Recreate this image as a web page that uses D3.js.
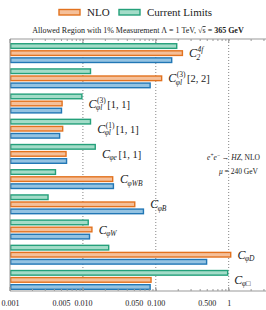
<!DOCTYPE html>
<html><head><meta charset="utf-8">
<script src="https://cdn.jsdelivr.net/npm/d3@7"></script>
<style>
body{margin:0;background:#fff;}
svg{display:block;}
text{font-family:"Liberation Serif","DejaVu Serif",serif;fill:#222;}
</style></head>
<body>
<svg id="c" width="266" height="310"></svg>
<script>
const categories = ["C2_4f","Cphil3_22","Cphil3_11","Cphil1_11","Cphie_11","CphiWB","CphiB","CphiW","CphiD","CphiBox"];
const currentLimits = [0.198, 0.013, 0.0099, 0.013, 0.0151, 0.0043, 0.0034, 0.0121, 0.0231, 0.99];
const nlo = [0.237, 0.123, 0.0053, 0.0054, 0.0060, 0.0262, 0.0526, 0.0136, 1.09, 0.088];
const thirdSeries = [0.169, 0.0855, 0.0052, 0.0049, 0.0061, 0.0268, 0.0692, 0.0126, 0.509, 0.0855];
const labels = [
  {sub:"2", sup:"4f", tail:""},
  {sub:"φl", sup:"(3)", tail:"[2, 2]"},
  {sub:"φl", sup:"(3)", tail:"[1, 1]"},
  {sub:"φl", sup:"(1)", tail:"[1, 1]"},
  {sub:"φe", sup:"", tail:"[1, 1]"},
  {sub:"φWB", sup:"", tail:""},
  {sub:"φB", sup:"", tail:""},
  {sub:"φW", sup:"", tail:""},
  {sub:"φD", sup:"", tail:""},
  {sub:"φ□", sup:"", tail:""}
];
const tickValues = [0.001, 0.005, 0.01, 0.05, 0.1, 0.5, 1];
const tickLabels = ["0.001","0.005","0.010","0.050","0.100","0.500","1"];
const gridValues = [0.01, 0.1, 1];
const seriesKeys = ["limits","nlo","third"];
const seriesData = {limits: currentLimits, nlo: nlo, third: thirdSeries};
const fills = {limits:"#a3dcc8", nlo:"#f5c09a", third:"#94c3e2"};
const strokes = {limits:"#24a07a", nlo:"#e2721f", third:"#2277b5"};

const svg = d3.select("#c");
const pTop = 39, pBottom = 291, pLeft = 10, pRight = 266;
const x = d3.scaleLog().domain([0.001, 3.25]).range([pLeft, pRight]);
const y = d3.scaleBand().domain(categories).range([pTop, pBottom]).paddingInner(0.2).paddingOuter(0.1).align(0.8);
const ys = d3.scaleBand().domain(seriesKeys).range([0, y.bandwidth()]).paddingInner(0.15);

// grid
svg.append("g").selectAll("line").data(gridValues).join("line")
  .attr("x1", d => x(d)).attr("x2", d => x(d)).attr("y1", pTop).attr("y2", pBottom)
  .attr("stroke", "#666").attr("stroke-width", 0.8).attr("stroke-dasharray", "1,2");

// bars
const rows = categories.map((c, i) => ({c, i}));
const g = svg.append("g");
rows.forEach(r => {
  seriesKeys.forEach(k => {
    const v = seriesData[k][r.i];
    g.append("rect")
      .attr("x", x(0.001) + 0.7)
      .attr("y", y(r.c) + ys(k) + 0.7)
      .attr("width", Math.max(0, x(v) - x(0.001) - 1.4))
      .attr("height", ys.bandwidth() - 1.4)
      .attr("fill", fills[k]).attr("stroke", strokes[k]).attr("stroke-width", 1.4);
  });
});

// spines
svg.append("line").attr("x1", pLeft).attr("x2", pRight).attr("y1", pTop).attr("y2", pTop).attr("stroke", "#999").attr("stroke-width", 1);
svg.append("line").attr("x1", pLeft).attr("x2", pRight).attr("y1", pBottom).attr("y2", pBottom).attr("stroke", "#999").attr("stroke-width", 1);
svg.append("line").attr("x1", pLeft).attr("x2", pLeft).attr("y1", pTop).attr("y2", pBottom).attr("stroke", "#999").attr("stroke-width", 1);

// ticks (inward, top and bottom)
const minors = x.ticks();
const majors = minors.filter(d => Math.abs(Math.log10(d) - Math.round(Math.log10(d))) < 1e-9);
const axTop = d3.axisTop(x).tickValues(minors).tickSize(-2).tickFormat("");
const axBot = d3.axisBottom(x).tickValues(minors).tickSize(-2).tickFormat("");
[svg.append("g").attr("transform", `translate(0,${pTop})`).call(axTop),
 svg.append("g").attr("transform", `translate(0,${pBottom})`).call(axBot)].forEach(a => {
  a.select(".domain").remove();
  a.selectAll("line").attr("stroke", "#999");
});
svg.append("g").selectAll("line").data(majors).join("line")
  .attr("x1", d => x(d)).attr("x2", d => x(d)).attr("y1", pTop).attr("y2", pTop + 4).attr("stroke", "#999");
svg.append("g").selectAll("line").data(majors).join("line")
  .attr("x1", d => x(d)).attr("x2", d => x(d)).attr("y1", pBottom).attr("y2", pBottom - 4).attr("stroke", "#999");

// tick labels
const axLab = d3.axisBottom(x).tickValues(tickValues).tickSize(0).tickPadding(0)
  .tickFormat((d, i) => tickLabels[i]);
const al = svg.append("g").attr("transform", `translate(0,${pBottom + 9})`).call(axLab);
al.select(".domain").remove();
al.selectAll("text").attr("font-size", 8).attr("font-family", "Liberation Serif, serif").attr("fill", "#222");

// labels
rows.forEach(r => {
  const lb = labels[r.i];
  const maxV = d3.max(seriesKeys, k => seriesData[k][r.i]);
  const lx = x(maxV) + 6;
  const cy = y(r.c) + y.bandwidth() / 2 + 4;
  const lg = svg.append("g");
  const cT = lg.append("text").attr("x", lx).attr("y", cy).attr("font-size", 12).attr("font-style", "italic").text("C");
  const w = cT.node().getComputedTextLength();
  let subW = 0, supW = 0;
  if (lb.sub) {
    const s = lg.append("text").attr("x", lx + w - 0.5).attr("y", cy + 2.5).attr("font-size", 7.5).attr("font-style", "italic").text(lb.sub);
    subW = s.node().getComputedTextLength();
  }
  if (lb.sup) {
    const s = lg.append("text").attr("x", lx + w + 0.5).attr("y", cy - 5).attr("font-size", 7.5)
      .attr("font-style", lb.sup.startsWith("(") ? "normal" : "italic").text(lb.sup);
    supW = s.node().getComputedTextLength() + 1;
  }
  if (lb.tail) {
    lg.append("text").attr("x", lx + w + Math.max(subW, supW) + 1).attr("y", cy).attr("font-size", 10.5).text(lb.tail);
  }
});

// legend
const legendItems = [{k:"nlo", name:"NLO", x:59}, {k:"limits", name:"Current Limits", x:119}];
legendItems.forEach(it => {
  svg.append("rect").attr("x", it.x).attr("y", 9.5).attr("width", 21).attr("height", 5.5)
    .attr("fill", fills[it.k]).attr("stroke", strokes[it.k]).attr("stroke-width", 1.4);
  svg.append("text").attr("x", it.x + 28).attr("y", 16).attr("font-size", 11).text(it.name);
});

// title
const t = svg.append("text").attr("x", 138).attr("y", 33).attr("font-size", 8).attr("text-anchor", "middle");
t.append("tspan").text("Allowed Region with 1% Measurement Λ = 1 TeV, √");
t.append("tspan").attr("text-decoration", "overline").text("s");
t.append("tspan").text(" = ");
t.append("tspan").attr("font-weight", "bold").text("365 GeV");

// annotation
const a1 = svg.append("text").attr("x", 260).attr("y", 160).attr("font-size", 7.5).attr("text-anchor", "end");
a1.append("tspan").attr("font-style", "italic").text("e");
a1.append("tspan").attr("font-size", 5.5).attr("dy", -3).text("+");
a1.append("tspan").attr("font-style", "italic").attr("dy", 3).text("e");
a1.append("tspan").attr("font-size", 5.5).attr("dy", -3).text("−");
a1.append("tspan").attr("dy", 3).text(" → ");
a1.append("tspan").attr("font-style", "italic").text("HZ");
a1.append("tspan").text(", NLO");
const a2 = svg.append("text").attr("x", 258).attr("y", 174).attr("font-size", 7.5).attr("text-anchor", "end");
a2.append("tspan").attr("font-style", "italic").text("μ");
a2.append("tspan").text(" = 240 GeV");
</script>
</body></html>
